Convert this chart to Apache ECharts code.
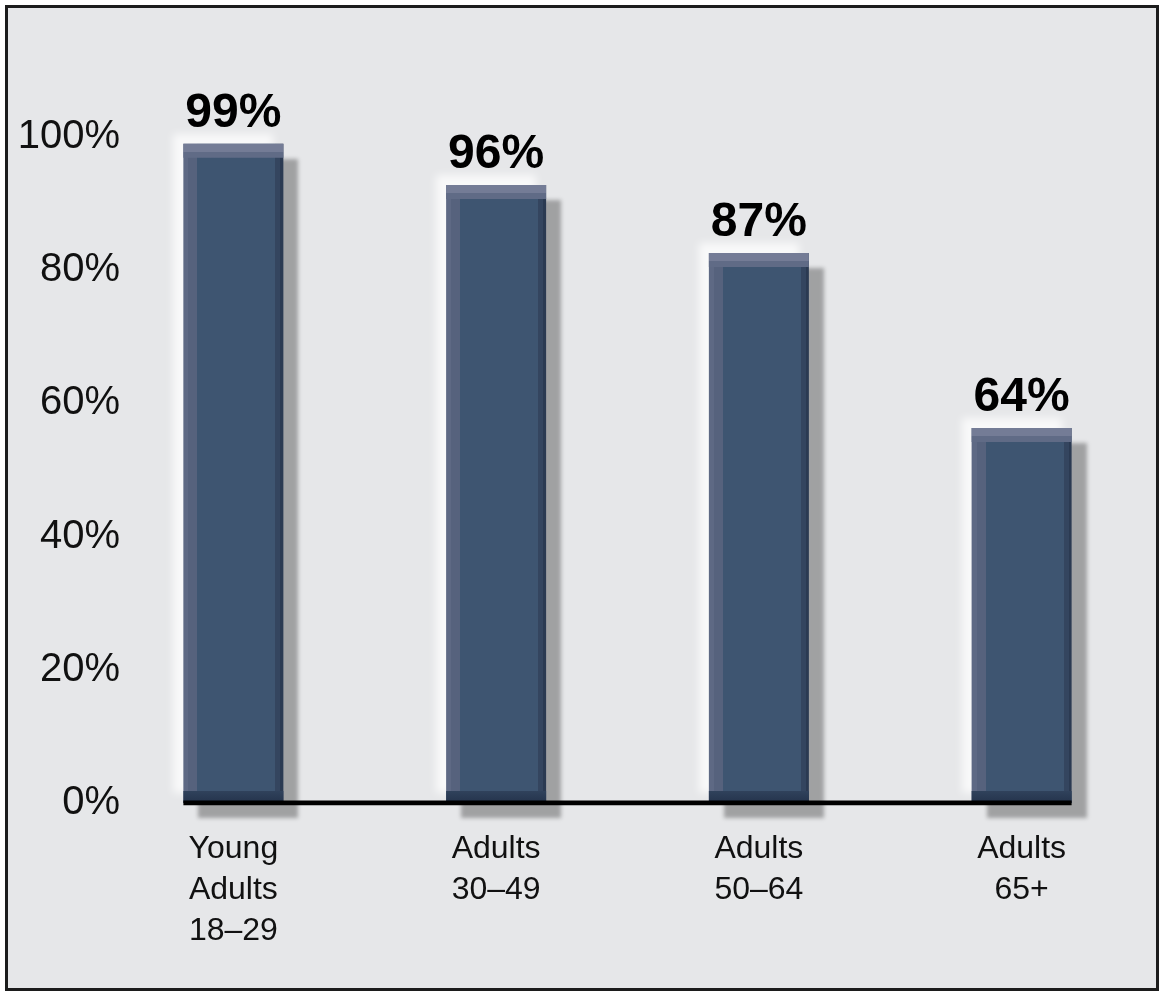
<!DOCTYPE html>
<html>
<head>
<meta charset="utf-8">
<script src="https://cdn.jsdelivr.net/npm/echarts@6/dist/echarts.min.js"></script>
<style>
  html, body { margin: 0; padding: 0; background: #ffffff; }
  #frame {
    position: absolute; left: 5px; top: 5px;
    width: 1154px; height: 986px;
    box-sizing: border-box;
    border: 3px solid #1c1c1c;
    background: #e6e7e9;
  }
  #chart { width: 100%; height: 100%; }
</style>
</head>
<body>
<div id="frame"><div id="chart"></div></div>
<script>
// categories, bar heights as drawn, and the printed value labels
const categories = ['Young\nAdults\n18–29', 'Adults\n30–49', 'Adults\n50–64', 'Adults\n65+'];
const barValues = [99, 92.8, 82.6, 56.3];
const labelTexts = ['99%', '96%', '87%', '64%'];
const yTicks = [0, 20, 40, 60, 80, 100];

const FONT = '"Liberation Sans Narrow", "Arial Narrow", "Liberation Sans", Arial, sans-serif';
const BAR_W = 100;
const BAND_W = 262.8;
const half = BAR_W / 2 / BAND_W;

const chart = echarts.init(document.getElementById('chart'));

const barFill = new echarts.graphic.LinearGradient(0, 0, 1, 0, [
  { offset: 0, color: '#5e6984' },
  { offset: 0.05, color: '#5e6984' },
  { offset: 0.05, color: '#56627d' },
  { offset: 0.14, color: '#56627d' },
  { offset: 0.14, color: '#3e5571' },
  { offset: 0.92, color: '#3e5571' },
  { offset: 0.92, color: '#34455f' },
  { offset: 0.97, color: '#34455f' },
  { offset: 0.97, color: '#2b3a52' },
  { offset: 1, color: '#2b3a52' }
]);

var option = {
  animation: false,
  grid: {
    left: 94,
    right: 3,
    top: 129,
    bottom: 185
  },
  xAxis: [{
    type: 'category',
    data: categories,
    axisLine: { show: false },
    axisTick: { show: false },
    axisLabel: {
      interval: 0,
      margin: 26,
      fontFamily: FONT,
      fontSize: 32,
      lineHeight: 41,
      color: '#111'
    }
  }, {
    type: 'value',
    min: -0.5,
    max: 3.5,
    show: false
  }],
  yAxis: {
    type: 'value',
    min: yTicks[0],
    max: yTicks[yTicks.length - 1],
    interval: yTicks[1] - yTicks[0],
    axisLine: { show: false },
    axisTick: { show: false },
    splitLine: { show: false },
    axisLabel: {
      margin: -18,
      formatter: '{value}%',
      fontFamily: FONT,
      fontSize: 40,
      color: '#111'
    }
  },
  series: [{
    // soft white glow at top-left
    name: 'glow',
    type: 'bar',
    barWidth: BAR_W,
    barGap: '-100%',
    data: barValues,
    silent: true,
    itemStyle: {
      color: '#e6e7e9',
      shadowColor: 'rgba(255,255,255,0.75)',
      shadowBlur: 8,
      shadowOffsetX: -10,
      shadowOffsetY: -10
    },
    z: 1
  }, {
    name: 'share',
    type: 'bar',
    barWidth: BAR_W,
    barGap: '-100%',
    data: barValues,
    itemStyle: {
      color: barFill,
      shadowColor: 'rgba(0,0,0,0.3)',
      shadowBlur: 4,
      shadowOffsetX: 15,
      shadowOffsetY: 15
    },
    label: {
      show: true,
      position: 'top',
      distance: 6,
      formatter: p => labelTexts[p.dataIndex],
      fontFamily: FONT,
      fontWeight: 'bold',
      fontSize: 48,
      color: '#000'
    },
    z: 2
  }, {
    // lighter bevel on top
    type: 'pictorialBar',
    symbol: 'rect',
    symbolSize: [BAR_W, 14],
    symbolPosition: 'end',
    data: barValues,
    silent: true,
    itemStyle: {
      color: new echarts.graphic.LinearGradient(0, 0, 0, 1, [
        { offset: 0, color: '#747c96' },
        { offset: 0.6, color: '#747c96' },
        { offset: 0.6, color: '#606b86' },
        { offset: 1, color: '#606b86' }
      ])
    },
    z: 3
  }, {
    // darker bevel at bottom
    type: 'pictorialBar',
    symbol: 'rect',
    symbolSize: [BAR_W, 12],
    symbolPosition: 'start',
    data: barValues,
    silent: true,
    itemStyle: {
      color: new echarts.graphic.LinearGradient(0, 0, 0, 1, [
        { offset: 0, color: '#30425c' },
        { offset: 1, color: '#24334b' }
      ])
    },
    z: 3
  }, {
    // baseline from first bar's left edge to last bar's right edge
    type: 'line',
    xAxisIndex: 1,
    data: [[-half, 0], [categories.length - 1 + half, 0]],
    symbol: 'none',
    silent: true,
    lineStyle: { color: '#000', width: 5 },
    z: 5
  }]
};

chart.setOption(option);
</script>
</body>
</html>
